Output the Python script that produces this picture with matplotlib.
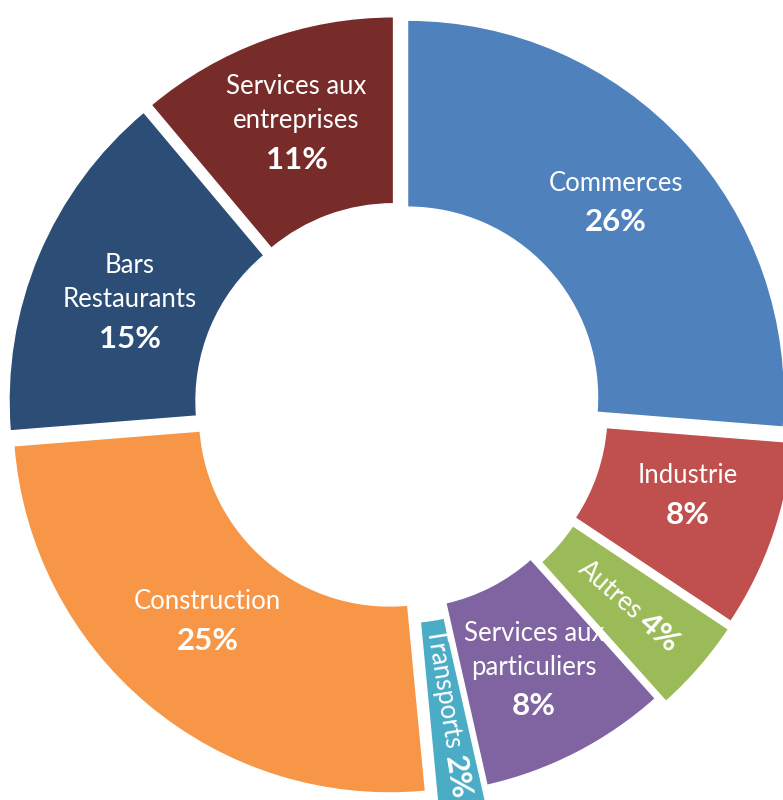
import numpy as np
import matplotlib
matplotlib.use("Agg")
import matplotlib.pyplot as plt

plt.rcParams['font.family'] = ['Lato', 'DejaVu Sans']

# ---- data ----
categories = ["Commerces", "Industrie", "Autres", "Services aux\nparticuliers",
              "Transports", "Construction", "Bars\nRestaurants", "Services aux\nentreprises"]
values = [26, 8, 4, 8, 2, 25, 15, 11]
pct_labels = ["26%", "8%", "4%", "8%", "2%", "25%", "15%", "11%"]
rotated = [False, False, True, False, True, False, False, False]

# ---- style ----
colors = ["#4F81BD", "#C0504D", "#9BBB59", "#8064A2",
          "#4BACC6", "#F79646", "#2C4D75", "#772C2A"]
explode = [13, 20, 22, 13, 27, 13, 13, 13]
# small label nudges in pixels (dx, dy with y up); radial extra for rotated labels
label_nudge = [(0, 2), (3, 10), (0, 0), (0, 0), (0, 0), (0, 12), (5, -11), (0, 4)]
radial_extra = [0, 0, 0, 0, 1, 0, 0, 0]
W, H = 783, 800
R_OUT, RING = 377, 187
CENTER = (398, H - 406)
NAME_FS, PCT_FS = 18.5, 22.5
LINE_GAP, PCT_GAP = 34, 39

fig = plt.figure(figsize=(W / 100, H / 100), dpi=100)
ax = fig.add_axes([0, 0, 1, 1])
ax.set_xlim(0, W)
ax.set_ylim(0, H)
ax.set_aspect('equal')
ax.axis('off')

wedges, _ = ax.pie(values, colors=colors, explode=explode, startangle=90,
                   counterclock=False, radius=R_OUT, center=CENTER,
                   wedgeprops=dict(width=RING, edgecolor='white', linewidth=1))
ax.set_xlim(0, W)
ax.set_ylim(0, H)

renderer = fig.canvas.get_renderer()

def text_width(s, **kw):
    t = ax.text(0, 0, s, **kw)
    bb = t.get_window_extent(renderer=renderer)
    t.remove()
    return bb.width

for w, name, pct, rot, (ndx, ndy), rex in zip(wedges, categories, pct_labels,
                                              rotated, label_nudge, radial_extra):
    th_deg = (w.theta1 + w.theta2) / 2
    th = np.deg2rad(th_deg)
    r = w.r - w.width / 2 + rex
    x = w.center[0] + r * np.cos(th) + ndx
    y = w.center[1] + r * np.sin(th) + ndy
    if rot:
        u = np.array([np.cos(th), np.sin(th)])
        wn = text_width(name, fontsize=NAME_FS)
        ws = text_width("a a", fontsize=NAME_FS) - text_width("aa", fontsize=NAME_FS)
        wp = text_width(pct, fontsize=PCT_FS, fontweight='bold')
        total = wn + ws + wp
        start = np.array([x, y]) - u * total / 2
        ax.text(start[0], start[1], name, fontsize=NAME_FS, color='white',
                rotation=th_deg, rotation_mode='anchor', ha='left', va='center')
        p2 = start + u * (wn + ws)
        ax.text(p2[0], p2[1], pct, fontsize=PCT_FS, fontweight='bold', color='white',
                rotation=th_deg, rotation_mode='anchor', ha='left', va='center')
    else:
        lines = name.split('\n')
        n = len(lines)
        last = (n - 1) * LINE_GAP + PCT_GAP
        c = last / 2
        for k, ln in enumerate(lines):
            ax.text(x, y - (k * LINE_GAP - c), ln, fontsize=NAME_FS, color='white',
                    ha='center', va='center')
        ax.text(x, y - (last - c), pct, fontsize=PCT_FS, fontweight='bold',
                color='white', ha='center', va='center')

fig.savefig("out.png", dpi=100, facecolor='white')
